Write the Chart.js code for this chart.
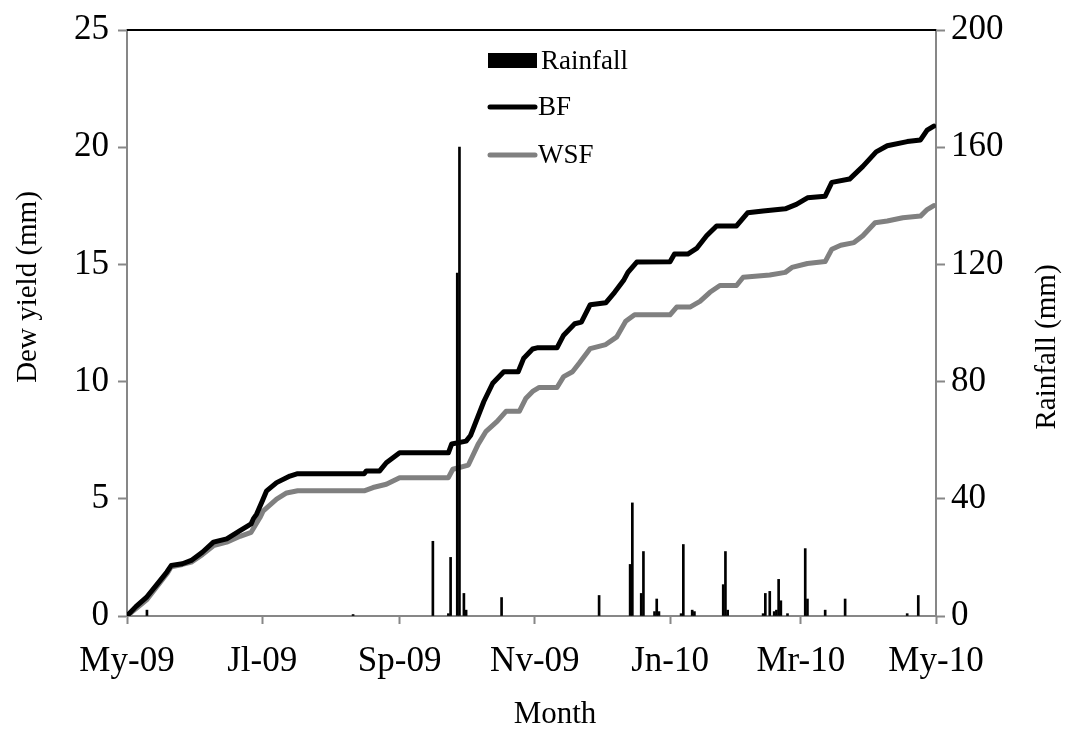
<!DOCTYPE html>
<html lang="en">
<head>
<meta charset="UTF-8">
<title>Dew yield and rainfall</title>
<script src="https://cdn.jsdelivr.net/npm/chart.js"></script>
<style>
  html, body { margin: 0; padding: 0; background: #fff; }
  .chart-box { width: 1065px; height: 733px; position: relative; }
</style>
</head>
<body>
<div class="chart-box"><canvas id="dewChart" width="1065" height="733"></canvas></div>
<script>
// x values are days counted from 1 May 2009
const monthTickDays = [0, 61, 123, 184, 245, 304, 365];
const monthTickLabels = ['My-09', 'Jl-09', 'Sp-09', 'Nv-09', 'Jn-10', 'Mr-10', 'My-10'];

// cumulative dew yield, BF (mm)
const bfDays = [0, 4, 9, 14, 18, 20, 25, 29, 34, 39, 45, 51, 56, 57, 58.5, 61, 63, 67.5, 73.5, 77,
  107, 108, 114, 117, 123, 145, 146.5, 153, 155, 161, 165, 170, 176.5, 179, 183, 185, 194, 197, 202,
  205, 209, 216, 220, 224, 226, 230, 245, 247, 253, 257, 261.5, 266, 275, 280, 287, 297, 302, 307,
  315, 318, 326, 332, 338, 343, 352, 358, 361, 364];
const bfYield = [0, 0.4, 0.82, 1.4, 1.88, 2.16, 2.23, 2.37, 2.72, 3.15, 3.29, 3.64, 3.93, 4.14, 4.35, 4.9, 5.34, 5.69, 5.97, 6.07,
  6.07, 6.19, 6.19, 6.54, 6.96, 6.96, 7.34, 7.46, 7.7, 9.15, 9.93, 10.42, 10.42, 11.0, 11.39, 11.44, 11.44, 11.98, 12.47,
  12.54, 13.28, 13.36, 13.81, 14.31, 14.66, 15.1, 15.11, 15.44, 15.44, 15.68, 16.22, 16.64, 16.64, 17.2, 17.28, 17.37, 17.56, 17.84,
  17.91, 18.5, 18.64, 19.18, 19.8, 20.06, 20.24, 20.31, 20.73, 20.9];

// cumulative dew yield, WSF (mm)
const wsfDays = [0, 9, 18, 20, 25, 29, 34, 39, 45, 51, 56, 60, 61.5, 67.5, 72, 77, 107, 111, 117, 123,
  145, 147, 154, 158.4, 162, 167, 171, 177, 180, 183, 186, 194, 197, 201, 204, 209, 216, 221, 225,
  229, 245, 248, 254, 258.5, 263, 267.5, 275, 278, 290, 297, 300, 307, 315, 318, 322, 328, 332,
  337.5, 343, 350, 358, 361, 364];
const wsfYield = [0, 0.7, 1.8, 2.1, 2.2, 2.3, 2.62, 3.0, 3.15, 3.4, 3.57, 4.2, 4.49, 4.99, 5.25, 5.34, 5.34, 5.48, 5.62, 5.9,
  5.9, 6.26, 6.44, 7.32, 7.88, 8.3, 8.73, 8.73, 9.29, 9.58, 9.75, 9.75, 10.21, 10.42, 10.78, 11.41, 11.58, 11.91, 12.57,
  12.85, 12.85, 13.18, 13.18, 13.42, 13.81, 14.1, 14.1, 14.45, 14.55, 14.66, 14.87, 15.04, 15.12, 15.65, 15.82, 15.93, 16.22,
  16.78, 16.85, 16.99, 17.06, 17.34, 17.51];

// daily rainfall (mm)
const rainDays = [9, 102, 138, 145, 146, 149, 150, 152, 153, 169, 213, 227, 228, 232, 233, 238, 239, 240,
  250, 251, 255, 256, 269, 270, 271, 287, 288, 290, 292, 293, 294, 295, 298, 306, 307, 315, 324, 352, 357];
const rainMm = [2, 0.5, 25.5, 0.8, 20, 117, 160, 7.7, 2, 6.3, 7, 17.6, 38.6, 7.7, 22, 1.5, 5.8, 1.5,
  0.8, 24.4, 2, 1.5, 10.7, 22, 2, 0.8, 7.7, 8.4, 1.5, 2, 12.5, 5.2, 0.8, 23, 5.8, 2, 5.8, 0.8, 7];

const SERIF = '"Liberation Serif", "Times New Roman", serif';
const AXIS_GREY = '#878787';
const LABEL_SIZE = 35;

const toPoints = (xs, ys) => xs.map((x, i) => ({ x: x, y: ys[i] }));

function drawUpTitle(ctx, text, x, y) {
  ctx.save();
  ctx.translate(x, y);
  ctx.rotate(-Math.PI / 2);
  ctx.fillText(text, 0, 0);
  ctx.restore();
}

// black frame line along the top of the plot, plus the axis titles
const framePlugin = {
  id: 'framePlugin',
  afterDraw(chart) {
    const { ctx, chartArea } = chart;
    ctx.save();
    ctx.strokeStyle = '#000';
    ctx.lineWidth = 2;
    ctx.beginPath();
    ctx.moveTo(chartArea.left, chartArea.top);
    ctx.lineTo(chartArea.right, chartArea.top);
    ctx.stroke();

    ctx.fillStyle = '#000';
    ctx.font = '29px ' + SERIF;
    ctx.textAlign = 'center';
    ctx.textBaseline = 'middle';
    drawUpTitle(ctx, chart.options.scales.y.title.text, 28, 287);
    drawUpTitle(ctx, chart.options.scales.y1.title.text, 1047, 347);
    ctx.font = '31px ' + SERIF;
    ctx.fillText(chart.options.scales.x.title.text, 555, 715);
    ctx.restore();
  }
};

// legend drawn inside the plot, in the order Rainfall, BF, WSF
const innerLegend = {
  id: 'innerLegend',
  afterDraw(chart) {
    const { ctx } = chart;
    const x0 = 488, sw = 49, rowY = [61, 107, 155];
    ctx.save();
    ctx.font = '27px ' + SERIF;
    ctx.textBaseline = 'middle';
    ctx.textAlign = 'left';
    chart.data.datasets.forEach((ds, i) => {
      const y = rowY[i];
      if (ds.type === 'bar') {
        ctx.fillStyle = ds.backgroundColor;
        ctx.fillRect(x0, y - 8, sw, 15);
        ctx.fillStyle = '#000';
        ctx.fillText(ds.label, x0 + sw + 4, y + 1);
      } else {
        ctx.strokeStyle = ds.borderColor;
        ctx.lineWidth = 5;
        ctx.lineCap = 'round';
        ctx.beginPath();
        ctx.moveTo(x0 + 2, y);
        ctx.lineTo(x0 + sw - 2, y);
        ctx.stroke();
        ctx.fillStyle = '#000';
        ctx.fillText(ds.label, x0 + sw + 1, y + 1);
      }
    });
    ctx.restore();
  }
};

const ctx = document.getElementById('dewChart').getContext('2d');
const dewChart = new Chart(ctx, {
  type: 'line',
  data: {
    datasets: [
      {
        type: 'bar',
        label: 'Rainfall',
        data: toPoints(rainDays, rainMm),
        yAxisID: 'y1',
        backgroundColor: '#000',
        borderWidth: 0,
        barThickness: 2,
        grouped: false,
        order: 0
      },
      {
        label: 'BF',
        data: toPoints(bfDays, bfYield),
        yAxisID: 'y',
        borderColor: '#000',
        borderWidth: 5,
        pointRadius: 0,
        tension: 0,
        borderJoinStyle: 'round',
        borderCapStyle: 'round',
        order: 1
      },
      {
        label: 'WSF',
        data: toPoints(wsfDays, wsfYield),
        yAxisID: 'y',
        borderColor: '#808080',
        borderWidth: 5,
        pointRadius: 0,
        tension: 0,
        borderJoinStyle: 'round',
        borderCapStyle: 'round',
        order: 2
      }
    ]
  },
  options: {
    responsive: false,
    animation: false,
    layout: { padding: { top: 25, right: 0, bottom: 0, left: 0 } },
    plugins: {
      legend: { display: false },
      tooltip: { enabled: false }
    },
    scales: {
      x: {
        type: 'linear',
        min: 0,
        max: 365,
        offset: false,
        afterBuildTicks: axis => { axis.ticks = monthTickDays.map(v => ({ value: v })); },
        afterFit: scale => { scale.height = 117; },
        ticks: {
          autoSkip: false,
          maxRotation: 0,
          padding: 17,
          color: '#000',
          font: { family: SERIF, size: LABEL_SIZE },
          callback: value => monthTickLabels[monthTickDays.indexOf(value)]
        },
        grid: { offset: false, drawOnChartArea: false, drawTicks: true, tickLength: 8, tickWidth: 2, color: AXIS_GREY },
        border: { color: AXIS_GREY, width: 2 },
        title: { display: false, text: 'Month' }
      },
      y: {
        position: 'left',
        min: 0,
        max: 25,
        afterFit: scale => { scale.width = 127; },
        ticks: {
          stepSize: 5,
          padding: 9,
          color: '#000',
          font: { family: SERIF, size: LABEL_SIZE }
        },
        grid: { drawOnChartArea: false, drawTicks: true, tickLength: 9, tickWidth: 2, color: AXIS_GREY },
        border: { color: AXIS_GREY, width: 2 },
        title: { display: false, text: 'Dew yield (mm)' }
      },
      y1: {
        position: 'right',
        min: 0,
        max: 200,
        afterFit: scale => { scale.width = 129; },
        ticks: {
          stepSize: 40,
          padding: 6,
          color: '#000',
          font: { family: SERIF, size: LABEL_SIZE }
        },
        grid: { drawOnChartArea: false, drawTicks: true, tickLength: 9, tickWidth: 2, color: AXIS_GREY },
        border: { color: AXIS_GREY, width: 2 },
        title: { display: false, text: 'Rainfall (mm)' }
      }
    }
  },
  plugins: [framePlugin, innerLegend]
});
</script>
</body>
</html>
